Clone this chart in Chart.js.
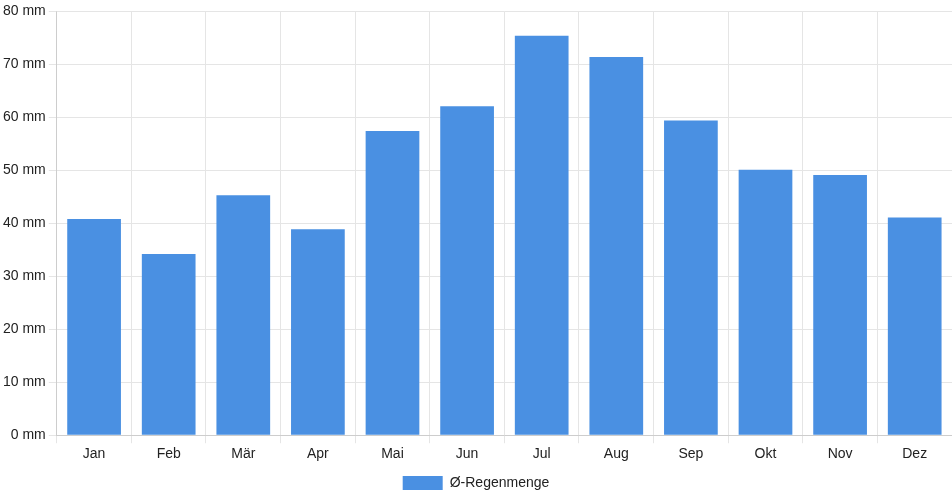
<!DOCTYPE html>
<html>
<head>
<meta charset="utf-8">
<script src="https://cdn.jsdelivr.net/npm/chart.js@4.4.0/dist/chart.umd.min.js"></script>
<style>
  html, body { margin: 0; padding: 0; background: #fff; }
  #wrap { width: 952px; height: 500px; position: relative; }
</style>
</head>
<body>
<div id="wrap"><canvas id="rainChart"></canvas></div>
<script>
const months = ['Jan', 'Feb', 'Mär', 'Apr', 'Mai', 'Jun', 'Jul', 'Aug', 'Sep', 'Okt', 'Nov', 'Dez'];
const rainfall = [40.8, 34.2, 45.3, 38.9, 57.4, 62.1, 75.4, 71.4, 59.4, 50.1, 49.1, 41.1];
const seriesLabel = 'Ø-Regenmenge';

Chart.defaults.font.family = '"Liberation Sans", Arial, sans-serif';
Chart.defaults.font.size = 14;
Chart.defaults.color = '#222';

const ctx = document.getElementById('rainChart').getContext('2d');
new Chart(ctx, {
    type: 'bar',
    data: {
        labels: months,
        datasets: [{
            label: seriesLabel,
            data: rainfall,
            backgroundColor: '#4a90e2',
            borderColor: '#4a90e2',
            borderWidth: 0
        }]
    },
    options: {
        responsive: true,
        maintainAspectRatio: false,
        animation: false,
        scales: {
            y: {
                min: 0,
                max: 80,
                ticks: { stepSize: 10, callback: v => v + ' mm' },
                grid: { color: '#e5e5e5' }
            },
            x: {
                grid: { color: '#e5e5e5' }
            }
        },
        plugins: {
            legend: { position: 'bottom' },
            tooltip: { enabled: false }
        }
    }
});
</script>
</body>
</html>
